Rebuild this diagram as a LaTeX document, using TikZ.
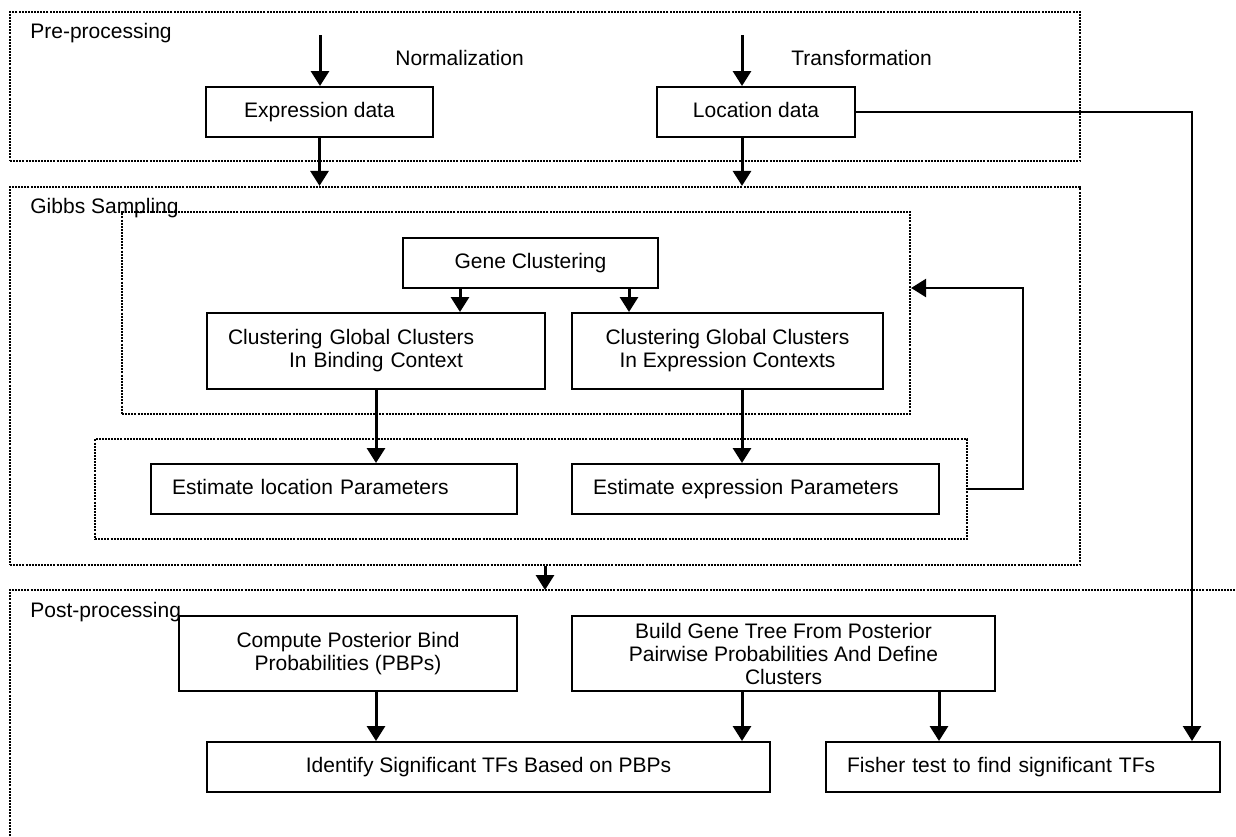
\documentclass[tikz,border=0pt]{standalone}
\usepackage{fontspec}
\setmainfont{Liberation Sans}
\usepackage{tikz}
\usetikzlibrary{arrows.meta,positioning,calc}
\newcommand{\diagfont}{\fontsize{10.5pt}{11.5pt}\selectfont}

\begin{document}
\begin{tikzpicture}[x=0.5pt,y=-0.5pt]

	\tikzstyle{block} = [rectangle, draw, line width=1pt, inner xsep=0pt, inner ysep=2pt,
		minimum height=25pt, align=center, font=\diagfont]
	\tikzstyle{block_left} = [block, inner xsep=10.5pt, align=left]
	\tikzstyle{oneline} = [text height=7.7pt, text depth=2.3pt]
	\tikzstyle{dots} = [line width=1.1pt, dash pattern=on 1pt off 0.55pt]
	\tikzstyle{group} = [rectangle, draw, dots, inner sep=0pt]
	\tikzstyle{plaintext} = [draw=none, fill=none, inner sep=0pt, anchor=west, font=\diagfont]
	\tikzstyle{line} = [draw, -{Triangle[width=9pt,length=7.5pt]}, line width=1.5pt]

	\useasboundingbox (0,0) rectangle (1236,836);

	% stages
	\node[group, minimum width=535pt, minimum height=74.5pt] (pre) at (545,86.5) {};
	\node[group, minimum width=535pt, minimum height=189pt] (gibbs) at (545,376) {};
	\node[group, minimum width=394pt, minimum height=101pt] (clusterstep) at (516,313) {};
	\node[group, minimum width=436pt, minimum height=50pt] (paramstep) at (531,489) {};
	\draw[dots] (10,836) -- (10,590) -- (1236,590);
	\coordinate (posttop) at (545,590);

	\node[plaintext] (prelabel) at (30,33) {Pre-processing};
	\node[plaintext] (gibbslabel) at (30,208) {Gibbs Sampling};
	\node[plaintext] (postlabel) at (30,612) {Post-processing};
	\node[plaintext] (normlabel) at (395,58) {Normalization};
	\node[plaintext] (translabel) at (791,58) {Transformation};

	\node[block, oneline, minimum width=113.5pt] (expr) at (319.5,112) {Expression data};
	\node[block, oneline, minimum width=99pt] (loc) at (756,112) {Location data};
	\node[block, oneline, minimum width=127.5pt] (gene) at (530.5,263) {Gene Clustering};
	\node[block_left, text width=148pt, minimum height=38pt] (clbind) at (376,351)
		{Clustering Global Clusters\\\hspace*{30.5pt}In Binding Context};
	\node[block, minimum width=155.5pt, minimum height=38pt] (clexp) at (727.5,351)
		{Clustering Global Clusters\\In Expression Contexts};
	\node[block_left, oneline, text width=162pt] (estloc) at (334,489) {Estimate location Parameters};
	\node[block_left, oneline, text width=162.5pt] (estexp) at (755.5,489) {Estimate expression Parameters};
	\node[block, minimum width=169pt, minimum height=37.5pt] (postbind) at (348,653.5)
		{Compute Posterior Bind\\Probabilities (PBPs)};
	\node[block, minimum width=211.5pt, minimum height=37.5pt] (genetree) at (783.5,653.5)
		{Build Gene Tree From Posterior\\Pairwise Probabilities And Define\\Clusters};
	\node[block, oneline, minimum width=281.5pt] (sigtf) at (488.5,767) {Identify Significant TFs Based on PBPs};
	\node[block_left, oneline, text width=176pt] (fisher) at (1023,767) {Fisher test to find significant TFs};

	\coordinate (normin) at (320,35);
	\coordinate (transin) at (742,35);
	\draw[line] (normin) -- (normin |- expr.north);
	\draw[line] (transin) -- (transin |- loc.north);
	\draw[line] (expr.south) -- (expr.south |- gibbs.north);
	\coordinate (locout) at ([xshift=-7pt]loc.south);
	\draw[line] (locout) -- (locout |- gibbs.north);

	\coordinate (genebind) at ([xshift=-35.25pt]gene.south);
	\coordinate (geneexp) at ([xshift=49.25pt]gene.south);
	\draw[line] (genebind) -- (genebind |- clbind.north);
	\draw[line] (geneexp) -- (geneexp |- clexp.north);
	\draw[line] (clbind.south) -- (clbind.south |- estloc.north);
	\coordinate (expout) at ([xshift=7.25pt]clexp.south);
	\draw[line] (expout) -- (expout |- estexp.north);

	% loop back
	\coordinate (loop) at (1023,288);
	\draw[line, line width=1.3pt] (paramstep.east) -| (loop) -- (loop -| clusterstep.east);

	\draw[line] (gibbs.south) -- (posttop);

	\coordinate (bindout) at ([xshift=14pt]postbind.south);
	\coordinate (treeleft) at ([xshift=-20.75pt]genetree.south);
	\coordinate (treeright) at ([xshift=77.75pt]genetree.south);
	\draw[line] (bindout) -- (bindout |- sigtf.north);
	\draw[line] (treeleft) -- (treeleft |- sigtf.north);
	\draw[line] (treeright) -- (treeright |- fisher.north);

	\coordinate (route) at (1192,112);
	\draw[line, line width=1.3pt] (loc.east) -- (route |- loc.east) -- (route |- fisher.north);
\end{tikzpicture}
\end{document}
